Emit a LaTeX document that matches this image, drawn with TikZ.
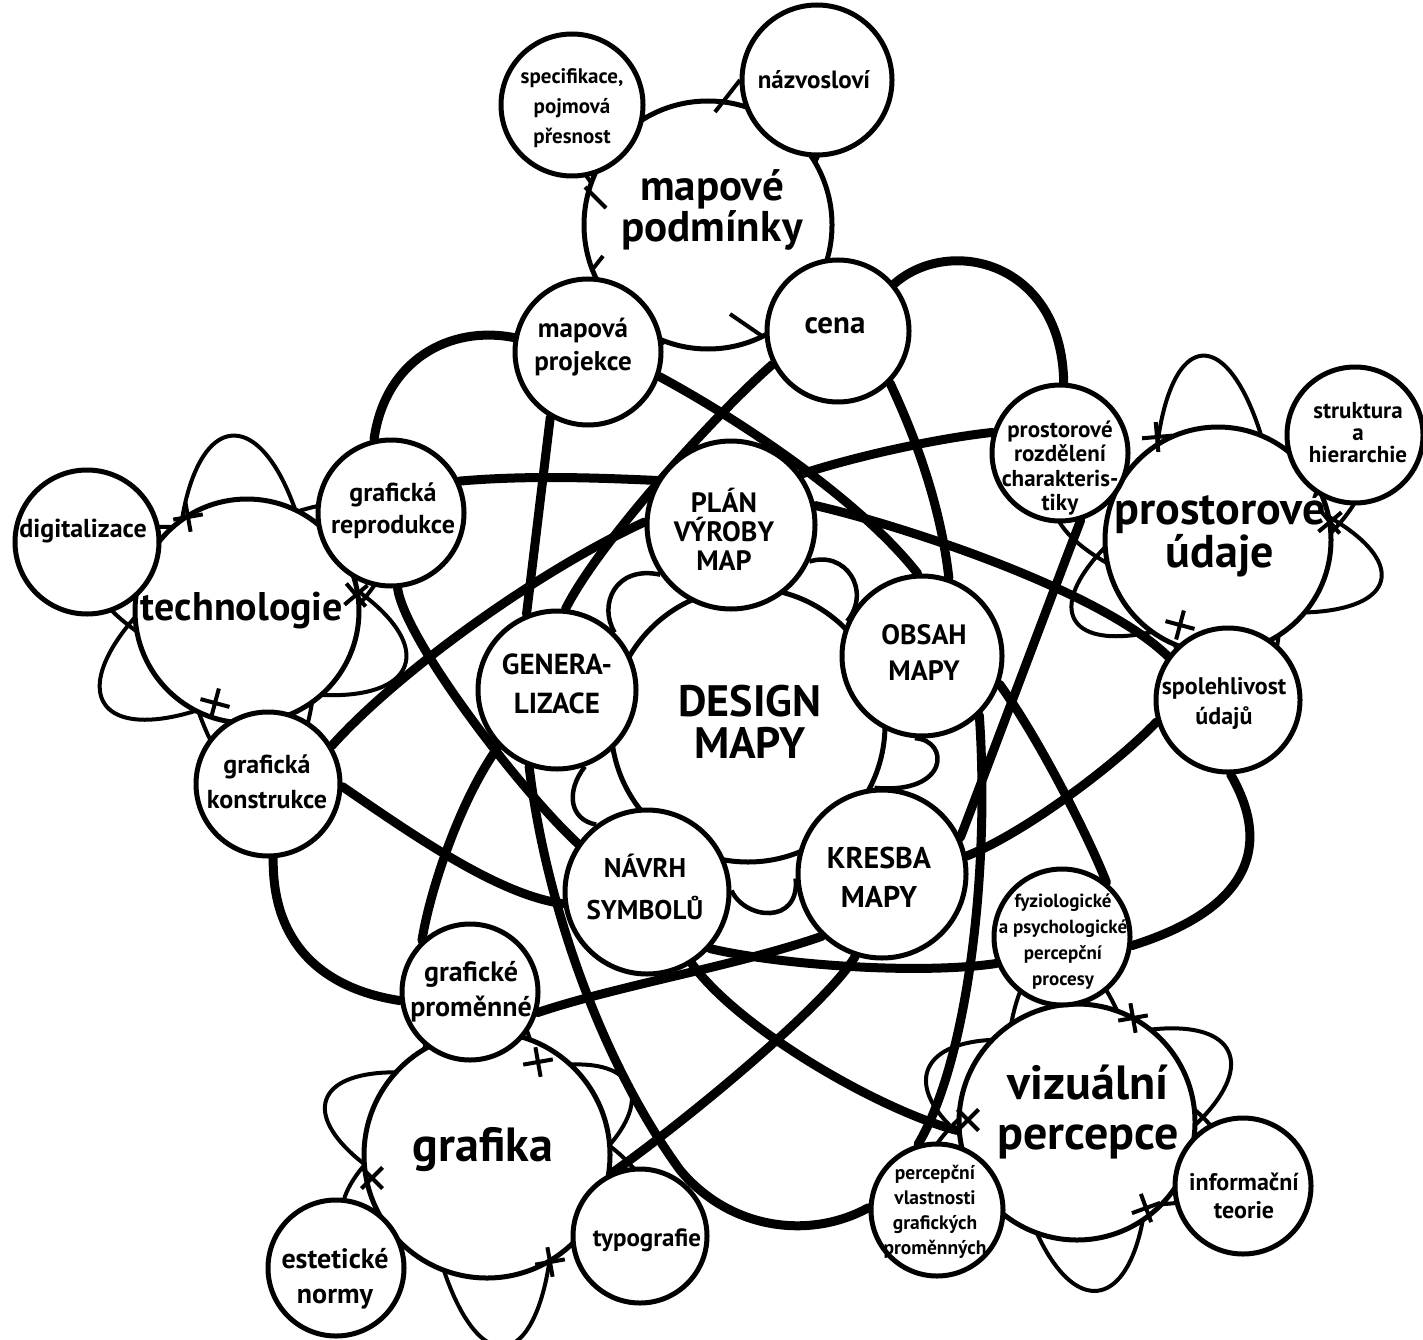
\documentclass[tikz,border=0pt]{standalone}
\usepackage{fontspec}
\setmainfont{PT Sans}
\pgfdeclarelayer{back}
\pgfdeclarelayer{orbit}
\pgfdeclarelayer{netw}
\pgfsetlayers{back,orbit,netw,main}
\newcommand{\fsz}[2]{\fontsize{#1}{#2}\selectfont\bfseries}
\newcommand{\orbX}[3]{\draw[orb, shift={(#1,#2)}, rotate=#3] (-15,0) -- (15,0) (0,-15) -- (0,15);}
\begin{document}
\begin{tikzpicture}[x=1pt,y=-1pt,
 orb/.style={line width=4pt},
 netl/.style={line width=9pt, line cap=round},
 lobe/.style={line width=4.5pt},
 bub/.style={circle, draw, fill=white, line width=5pt, inner sep=0pt},
 lbl/.style={align=center, inner sep=0pt},
]
\useasboundingbox (0,0) rectangle (1423,1340);
\clip (0,0) rectangle (1423,1340);
\begin{pgfonlayer}{back}
\fill[white] (0,0) rectangle (1423,1340);
\end{pgfonlayer}

% ---------- circles ----------
\node[bub, minimum size=274] (dm) at (748,725) {};
\node[bub, minimum size=168] (plan) at (731,525) {};
\node[bub, minimum size=160] (obsah) at (922,656) {};
\node[bub, minimum size=158] (gen) at (557,690) {};
\node[bub, minimum size=164] (navrh) at (647,892) {};
\node[bub, minimum size=168] (kresba) at (882,874) {};

\node[bub, minimum size=248] (mpod) at (708,225) {};
\node[bub, minimum size=142] (spec) at (572,105) {};
\node[bub, minimum size=150] (nazv) at (817,80) {};
\node[bub, minimum size=146] (mproj) at (588,352) {};
\node[bub, minimum size=142] (cena) at (838,331) {};

\node[bub, minimum size=224] (tech) at (247,611) {};
\node[bub, minimum size=144] (digi) at (87,542) {};
\node[bub, minimum size=146] (grep) at (391,513) {};
\node[bub, minimum size=144] (gkon) at (268,784) {};

\node[bub, minimum size=226] (pud) at (1218,540) {};
\node[bub, minimum size=136] (prozd) at (1060,453) {};
\node[bub, minimum size=136] (struk) at (1355,435) {};
\node[bub, minimum size=144] (spol) at (1228,700) {};

\node[bub, minimum size=236] (viz) at (1077,1122) {};
\node[bub, minimum size=136] (fyz) at (1062,937) {};
\node[bub, minimum size=136] (info) at (1243,1186) {};
\node[bub, minimum size=132] (percv) at (937,1210) {};

\node[bub, minimum size=246] (graf) at (487,1155) {};
\node[bub, minimum size=136] (gprom) at (470,992) {};
\node[bub, minimum size=136] (este) at (336,1268) {};
\node[bub, minimum size=134] (typo) at (640,1236) {};

% ---------- orbits ----------
\begin{pgfonlayer}{orbit}
\draw[orb, rotate around={95:(247,611)}] (247,611) ellipse [x radius=176, y radius=68];
\draw[orb, rotate around={-19:(247,611)}] (247,611) ellipse [x radius=167, y radius=68];
\draw[orb, rotate around={33:(247,611)}] (247,611) ellipse [x radius=170, y radius=68];
\draw[orb, rotate around={95:(1218,540)}] (1218,540) ellipse [x radius=185, y radius=62];
\draw[orb, rotate around={-14:(1218,540)}] (1218,540) ellipse [x radius=168, y radius=62];
\draw[orb, rotate around={29:(1218,540)}] (1218,540) ellipse [x radius=164, y radius=62];
\draw[orb, rotate around={25:(1077,1122)}] (1077,1122) ellipse [x radius=167, y radius=68];
\draw[orb, rotate around={-83:(1077,1122)}] (1077,1122) ellipse [x radius=170, y radius=68];
\draw[orb, rotate around={161:(1077,1122)}] (1077,1122) ellipse [x radius=158, y radius=68];
\draw[orb, rotate around={161:(487,1155)}] (487,1155) ellipse [x radius=170, y radius=65];
\draw[orb, rotate around={26:(487,1155)}] (487,1155) ellipse [x radius=158, y radius=65];
\draw[orb, rotate around={-85:(487,1155)}] (487,1155) ellipse [x radius=192, y radius=65];
\draw[orb, rotate around={140:(708,225)}] (708,225) ellipse [x radius=185, y radius=55];
\draw[orb, rotate around={50:(708,225)}] (708,225) ellipse [x radius=180, y radius=55];
\end{pgfonlayer}

% ---------- network ----------
\begin{pgfonlayer}{netw}
\draw[netl] (mproj.240) -- (gen.112);
\draw[netl] (gen.250) .. controls (545,900) and (600,1060) .. (680,1170) .. controls (730,1230) and (810,1240) .. (percv.178);
\draw[netl] (mproj.-19) .. controls (740,420) and (860,500) .. (obsah.93);
\draw[netl] (obsah.-20) .. controls (1040,740) and (1090,840) .. (fyz.51);
\draw[netl] (cena.207) .. controls (720,410) and (600,540) .. (gen.84);
\draw[netl] (gen.224) .. controls (460,800) and (430,890) .. (gprom.133);
\draw[netl] (grep.25) .. controls (530,475) and (600,478) .. (plan.149);
\draw[netl] (plan.36) .. controls (860,455) and (940,438) .. (prozd.163);
\draw[netl] (gkon.31) .. controls (400,670) and (540,570) .. (plan.178);
\draw[netl] (plan.13) .. controls (900,525) and (1100,590) .. (spol.144);
\draw[netl] (cena.-45) .. controls (912,430) and (940,500) .. (obsah.71);
\draw[netl] (obsah.-46) .. controls (990,870) and (968,1060) .. (percv.106);
\draw[netl] (gkon.-86) .. controls (272,950) and (330,990) .. (gprom.187);
\draw[netl] (gkon.-2) .. controls (420,840) and (500,895) .. (navrh.188);
\draw[netl] (navrh.-42) .. controls (780,965) and (920,975) .. (fyz.202);
\draw[netl] (gprom.-17) .. controls (620,985) and (740,965) .. (kresba.226);
\draw[netl] (kresba.12) .. controls (1020,835) and (1110,770) .. (spol.197);
\draw[netl] (prozd.-73) .. controls (1050,600) and (990,760) .. (kresba.25);
\draw[netl] (kresba.252) .. controls (830,1000) and (700,1110) .. (typo.112);
\draw[netl] (mproj.169) .. controls (450,325) and (385,360) .. (grep.103);
\draw[netl] (grep.275) .. controls (405,640) and (520,790) .. (navrh.145);
\draw[netl] (navrh.-58) .. controls (740,1030) and (880,1110) .. (viz.184);
\draw[netl] (cena.40) .. controls (950,235) and (1062,262) .. (prozd.87);
\draw[netl] (spol.-88) .. controls (1280,860) and (1230,915) .. (fyz.-7);
% lobes round the centre
\draw[lobe] (plan.215) .. controls (615,565) and (598,605) .. (gen.45);
\draw[lobe] (plan.-25) .. controls (845,550) and (872,590) .. (obsah.155);
\draw[lobe] (obsah.265) .. controls (950,740) and (950,795) .. (kresba.95);
\draw[lobe] (navrh.1) .. controls (745,920) and (800,925) .. (kresba.183);
\draw[lobe] (gen.-70) .. controls (565,792) and (570,820) .. (navrh.127);
\end{pgfonlayer}

% ---------- crossing marks ----------
\orbX{188}{517}{10}
\orbX{356}{595}{40}
\orbX{215}{703}{-15}
\orbX{1157}{437}{5}
\orbX{1330}{522}{40}
\orbX{1180}{625}{-15}
\orbX{1133}{1018}{10}
\orbX{1146}{1208}{20}
\orbX{968}{1120}{45}
\orbX{538}{1062}{10}
\orbX{550}{1262}{10}
\orbX{372}{1178}{45}
\draw[orb] (715,112) -- (740,80);
\draw[orb] (585,187) -- (606,208);
\draw[orb] (592,270) -- (603,256);
\draw[orb] (730,314) -- (762,336);

% ---------- labels ----------
\node[lbl, font=\fsz{43}{39}] (mpod-t) at (712,210) {mapové\\podmínky};
\node[lbl, font=\fsz{21}{30}] (spec-t) at (572,108) {specifikace,\\pojmová\\přesnost};
\node[lbl, font=\fsz{25}{28}] (nazv-t) at (814,80) {názvosloví};
\node[lbl, font=\fsz{27}{33}] (mproj-t) at (583,347) {mapová\\projekce};
\node[lbl, font=\fsz{31}{30}] (cena-t) at (835,326) {cena};
\node[lbl, font=\fsz{28}{29}] (plan-t) at (724,529) {PLÁN\\VÝROBY\\MAP};
\node[lbl, font=\fsz{29}{39}] (gen-t) at (557,684) {GENERA-\\LIZACE};
\node[lbl, font=\fsz{44}{42}] (dm-t) at (750,722) {DESIGN\\MAPY};
\node[lbl, font=\fsz{28}{36}] (obsah-t) at (924,652) {OBSAH\\MAPY};
\node[lbl, font=\fsz{27}{42}] (navrh-t) at (645,887) {NÁVRH\\SYMBOLŮ};
\node[lbl, font=\fsz{30}{39}] (kresba-t) at (879,877) {KRESBA\\MAPY};
\node[lbl, font=\fsz{40}{40}] (tech-t) at (242,611) {technologie};
\node[lbl, font=\fsz{26}{28}] (digi-t) at (83,531) {digitalizace};
\node[lbl, font=\fsz{26}{32}] (grep-t) at (393,511) {grafická\\reprodukce};
\node[lbl, font=\fsz{26}{35}] (gkon-t) at (267,782) {grafická\\konstrukce};
\node[lbl, font=\fsz{23}{24.5}] (prozd-t) at (1060,468) {prostorové\\rozdělení\\charakteris-\\tiky};
\node[lbl, font=\fsz{46}{39}] (pud-t) at (1220,534) {prostorové\\údaje};
\node[lbl, font=\fsz{23}{22}] (struk-t) at (1358,433) {struktura\\a\\hierarchie};
\node[lbl, font=\fsz{24}{30}] (spol-t) at (1224,703) {spolehlivost\\údajů};
\node[lbl, font=\fsz{19}{26}] (fyz-t) at (1063,942) {fyziologické\\a psychologické\\percepční\\procesy};
\node[lbl, font=\fsz{48}{50}] (viz-t) at (1088,1112) {vizuální\\percepce};
\node[lbl, font=\fsz{24}{28}] (info-t) at (1244,1196) {informační\\teorie};
\node[lbl, font=\fsz{19.5}{25}] (percv-t) at (935,1212) {percepční\\vlastnosti\\grafických\\proměnných};
\node[lbl, font=\fsz{48}{40}] (graf-t) at (483,1150) {grafika};
\node[lbl, font=\fsz{28}{35}] (gprom-t) at (471,992) {grafické\\proměnné};
\node[lbl, font=\fsz{25}{28}] (typo-t) at (647,1240) {typografie};
\node[lbl, font=\fsz{28}{35}] (este-t) at (335,1279) {estetické\\normy};
\end{tikzpicture}
\end{document}
